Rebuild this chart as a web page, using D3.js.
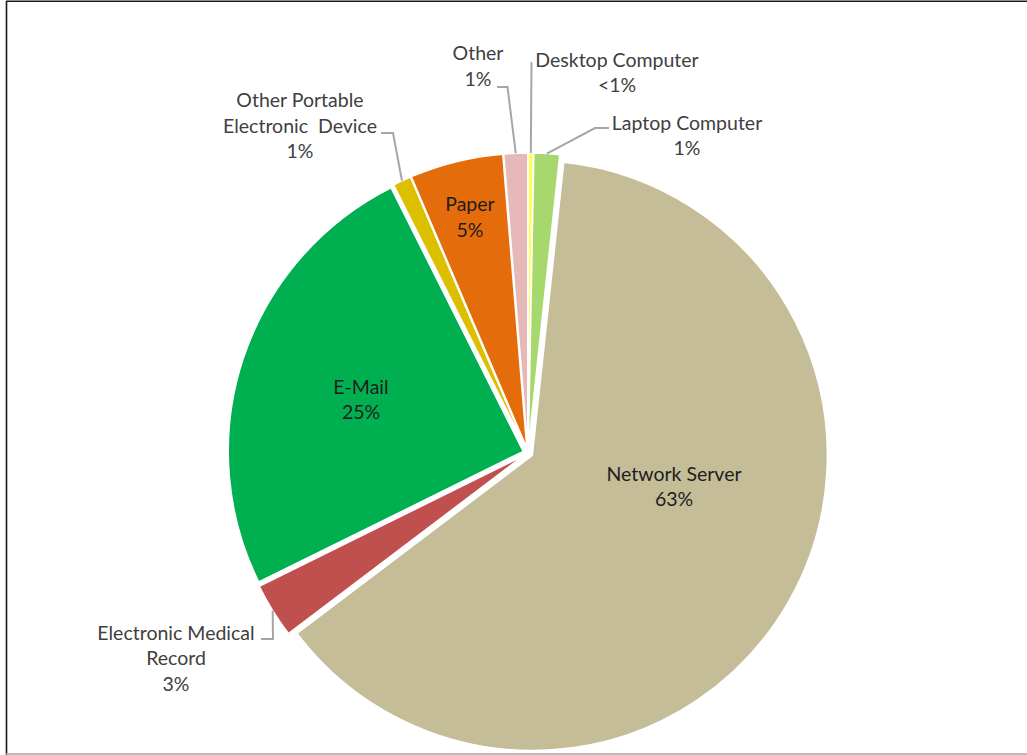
<!DOCTYPE html>
<html>
<head>
<meta charset="utf-8">
<script src="https://cdn.jsdelivr.net/npm/d3@7"></script>
<style>
  html, body { margin: 0; padding: 0; background: #fff; }
  svg { display: block; font-family: Lato, "Noto Sans", sans-serif; }
  text { white-space: pre; }
</style>
</head>
<body>
<svg id="chart" width="1027" height="755"></svg>
<script>
// Breach location shares, clockwise from 12 o'clock
const categories = [
  "Desktop Computer", "Laptop Computer", "Network Server", "Electronic Medical Record",
  "E-Mail", "Other Portable Electronic Device", "Paper", "Other"
];
const shares = [0.3, 1.4, 63.0, 3.0, 24.9, 1.0, 5.1, 1.3];
const sliceColors = [
  "#ffff5c", "#a6d86e", "#c4bd97", "#c0504d",
  "#00b050", "#dcc000", "#e46c0a", "#e6b9b8"
];
// Name lines of each data label; the percentage line is added from the value
const labelNames = [
  ["Desktop Computer"], ["Laptop Computer"], ["Network Server"], ["Electronic Medical", "Record"],
  ["E-Mail"], ["Other Portable", "Electronic  Device"], ["Paper"], ["Other"]
];

// Placement of each label (centre x, first baseline) and optional leader elbow
const labelLayout = [
  { x: 617, y: 66.5, leader: { x0: 532, y: 63, elbowX: 531.5 } },
  { x: 687, y: 129.5, leader: { x0: 609, y: 128, elbowX: 595 } },
  { x: 674, y: 480.5, inside: true },
  { x: 176, y: 639.5, leader: { x0: 261, y: 639, elbowX: 273 } },
  { x: 361, y: 393.5, inside: true },
  { x: 300, y: 107, leader: { x0: 381, y: 133, elbowX: 393 } },
  { x: 470, y: 211, inside: true },
  { x: 478, y: 60, leader: { x0: 497, y: 87, elbowX: 507.5 } }
];

const W = 1027, H = 755;
const cx = 528, cy = 453, radius = 295, explode = 5;
const lineGap = 25.5;

const svg = d3.select("#chart");

// frame
svg.append("line").attr("x1", 6.5).attr("y1", 1).attr("x2", 6.5).attr("y2", H)
  .attr("stroke", "#1a1a1a").attr("stroke-width", 1.6);
svg.append("line").attr("x1", 6).attr("y1", 1.2).attr("x2", W).attr("y2", 1.2)
  .attr("stroke", "#1a1a1a").attr("stroke-width", 1.6);
svg.append("line").attr("x1", 6).attr("y1", 754).attr("x2", W).attr("y2", 754)
  .attr("stroke", "#a6a6a6").attr("stroke-width", 1.5);

const pie = d3.pie().sort(null).value(d => d).startAngle(0).endAngle(2 * Math.PI);
const arcs = pie(shares);
const arc = d3.arc().innerRadius(0).outerRadius(radius);

const unit = a => [Math.sin(a), -Math.cos(a)];
const midAngle = d => (d.startAngle + d.endAngle) / 2;
const sliceOffset = d => { const u = unit(midAngle(d)); return [u[0] * explode, u[1] * explode]; };

const g = svg.append("g").attr("transform", `translate(${cx},${cy})`);

g.selectAll("path.slice")
  .data(arcs)
  .join("path")
  .attr("class", "slice")
  .attr("transform", d => { const o = sliceOffset(d); return `translate(${o[0]},${o[1]})`; })
  .attr("d", arc)
  .attr("fill", (d, i) => sliceColors[i])
  .attr("stroke", "#fff")
  .attr("stroke-width", 1.5)
  .attr("stroke-linejoin", "round");

const pctText = v => v < 0.5 ? "<1%" : Math.round(v) + "%";

// leader lines from the label to the middle of the slice's rim
arcs.forEach((d, i) => {
  const L = labelLayout[i].leader;
  if (!L) return;
  const o = sliceOffset(d), u = unit(midAngle(d));
  const end = [cx + o[0] + u[0] * radius, cy + o[1] + u[1] * radius];
  svg.append("path")
    .attr("d", d3.line()([[L.x0, L.y], [L.elbowX, L.y], end]))
    .attr("fill", "none")
    .attr("stroke", "#a6a6a6")
    .attr("stroke-width", 2);
});

// data labels
arcs.forEach((d, i) => {
  const lay = labelLayout[i];
  const lines = labelNames[i].concat([pctText(d.data)]);
  const t = svg.append("text")
    .attr("text-anchor", "middle")
    .attr("font-size", 19.5)
    .attr("fill", lay.inside ? "#1e1e1e" : "#404040");
  lines.forEach((s, k) => {
    t.append("tspan").attr("x", lay.x).attr("y", lay.y + k * lineGap).text(s);
  });
});
</script>
</body>
</html>
